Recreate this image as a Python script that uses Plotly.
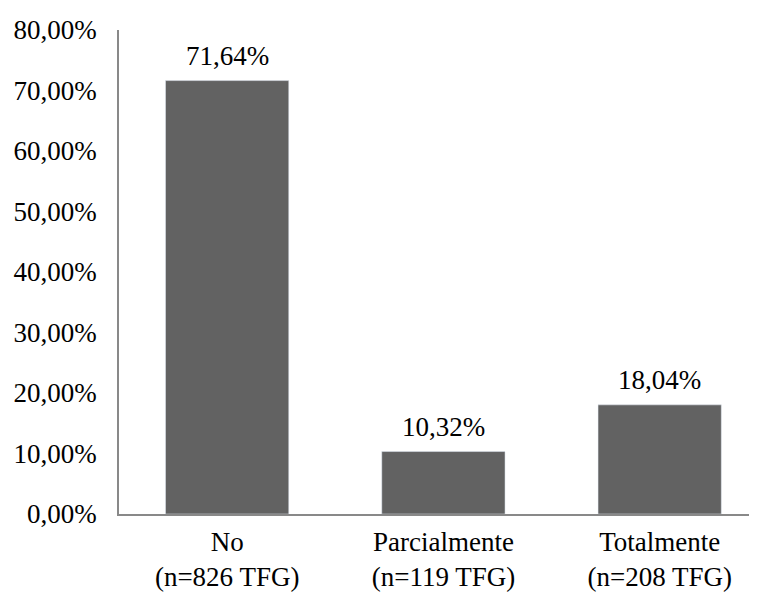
import plotly.graph_objects as go

categories = ["No<br>(n=826 TFG)", "Parcialmente<br>(n=119 TFG)", "Totalmente<br>(n=208 TFG)"]
values = [71.64, 10.32, 18.04]
y_ticks = [0, 10, 20, 30, 40, 50, 60, 70, 80]
y_ticktext = [f"{v:.2f}%".replace(".", ",") for v in y_ticks]
bar_labels = [f"{v:.2f}%".replace(".", ",") for v in values]

SERIF = "Liberation Serif"
FONT = dict(family=SERIF, size=27, color="black")

fig = go.Figure(go.Bar(
    x=categories,
    y=values,
    marker_color="#626262",
    width=0.57,
))

for cat, val, lab in zip(categories, values, bar_labels):
    fig.add_annotation(x=cat, y=val, text=lab, showarrow=False,
                       yanchor="bottom", yshift=8, font=FONT)

# page body has an 8px margin, so the figure is sized to fit 757x599
fig.update_layout(
    width=749, height=591,
    margin=dict(l=111, r=0, t=22, b=85, autoexpand=False),
    plot_bgcolor="white", paper_bgcolor="white",
    font=FONT,
    showlegend=False,
)
fig.update_xaxes(
    range=[-0.5, 2.45], automargin=False,
    showline=True, linecolor="#898989", linewidth=1.5,
    showgrid=False, ticks="", tickfont=FONT,
    ticklabelstandoff=3,
)
fig.update_yaxes(
    range=[0, 80], tickvals=y_ticks, ticktext=y_ticktext, automargin=False,
    showline=True, linecolor="#898989", linewidth=1.5,
    showgrid=False, zeroline=False, ticks="", tickfont=FONT,
    ticklabelstandoff=15,
)

fig.write_html("out.html")
